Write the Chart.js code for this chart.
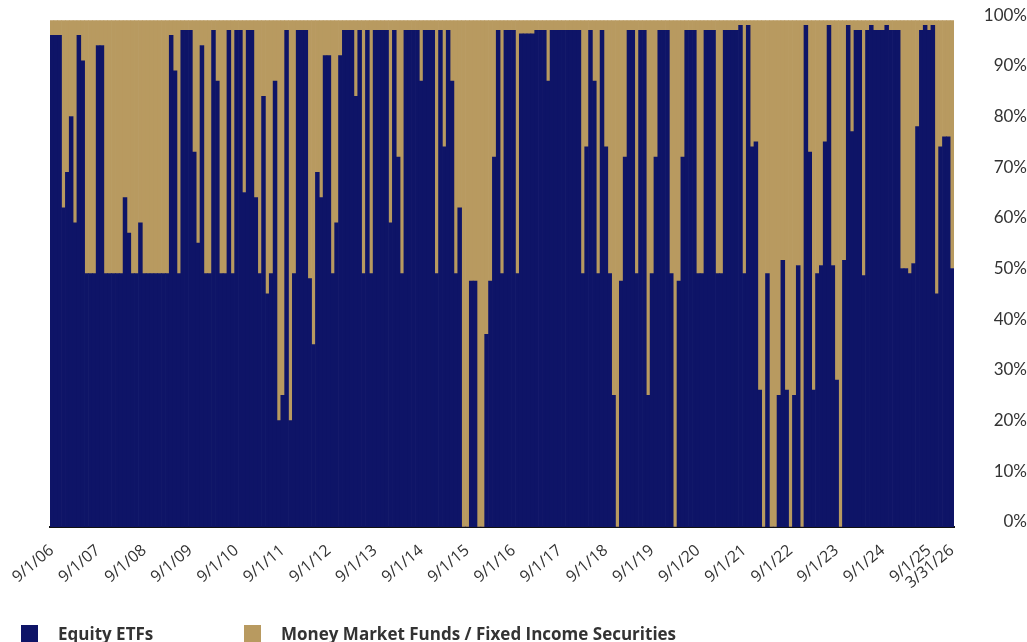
<!DOCTYPE html>
<html><head><meta charset="utf-8">
<script src="https://cdn.jsdelivr.net/npm/chart.js@4"></script>
<style>
html,body{margin:0;padding:0;background:#fff;width:1027px;height:642px;overflow:hidden;}
#wrap{position:relative;width:1027px;height:642px;overflow:hidden;}
canvas{position:absolute;left:0;top:0;}
.leg{position:absolute;top:624px;height:18px;font:bold 17px "Open Sans", Lato, sans-serif;color:#333;display:flex;align-items:center;white-space:nowrap;}
.sw{width:17px;height:17px;display:inline-block;margin-right:20px;flex:none;}
</style></head>
<body><div id="wrap"><canvas id="c" width="1027" height="642"></canvas>
<div class="leg" style="left:21px"><span class="sw" style="background:#0e1467"></span>Equity ETFs</div>
<div class="leg" style="left:244px"><span class="sw" style="background:#b89a60"></span>Money Market Funds / Fixed Income Securities</div>
</div>
<script>
const seriesNames = ["Equity ETFs", "Money Market Funds / Fixed Income Securities"];
const tickLabels = ["9/1/06","9/1/07","9/1/08","9/1/09","9/1/10","9/1/11","9/1/12","9/1/13","9/1/14","9/1/15","9/1/16","9/1/17","9/1/18","9/1/19","9/1/20","9/1/21","9/1/22","9/1/23","9/1/24","9/1/25","3/31/26"];
const yTickLabels = ["0%","10%","20%","30%","40%","50%","60%","70%","80%","90%","100%"];

const equity = [
97,97,97,63,70,81,60,97,92,50,
50,50,95,95,50,50,50,50,50,65,
58,50,50,60,50,50,50,50,50,50,
50,97,90,50,98,98,98,74,56,95,
50,50,98,88,50,50,98,50,98,98,
66,98,98,65,50,85,46,50,88,21,
26,98,21,50,98,98,98,49,36,70,
65,93,93,50,60,93,98,98,98,85,
98,50,98,50,98,98,98,98,60,98,
73,50,98,98,98,98,88,98,98,98,
50,98,75,98,88,50,63,0,0,48.5,
48.5,0,0,38,48.5,73,98,50,98,98,
98,50,97.3,97.3,97.3,97.3,98,98,98,88,
98,98,98,98,98,98,98,98,50,75,
98,88,50,98,75,50,26,0,48.5,73,
98,98,50,98,98,26,50,73,98,98,
98,50,0,48.5,73,98,98,98,50,50,
98,98,98,50,50,98,98,98,98,99,
50,99,75,76,27,0,50,0,0,26,
52.6,27,0,26,51.6,0,99,74,27,50,
51.6,76,99,51.6,29,0,52.6,99,78,98,
98,49.6,98,99,98,98,98,99,98,98,
98,51,51,50,52,79,98,99,98,99,
46,75,77,77,51];

const moneyMarket = [
3,3,3,37,30,19,40,3,8,50,
50,50,5,5,50,50,50,50,50,35,
42,50,50,40,50,50,50,50,50,50,
50,3,10,50,2,2,2,26,44,5,
50,50,2,12,50,50,2,50,2,2,
34,2,2,35,50,15,54,50,12,79,
74,2,79,50,2,2,2,51,64,30,
35,7,7,50,40,7,2,2,2,15,
2,50,2,50,2,2,2,2,40,2,
27,50,2,2,2,2,12,2,2,2,
50,2,25,2,12,50,37,100,100,51.5,
51.5,100,100,62,51.5,27,2,50,2,2,
2,50,2.7,2.7,2.7,2.7,2,2,2,12,
2,2,2,2,2,2,2,2,50,25,
2,12,50,2,25,50,74,100,51.5,27,
2,2,50,2,2,74,50,27,2,2,
2,50,100,51.5,27,2,2,2,50,50,
2,2,2,50,50,2,2,2,2,1,
50,1,25,24,73,100,50,100,100,74,
47.4,73,100,74,48.4,100,1,26,73,50,
48.4,24,1,48.4,71,100,47.4,1,22,2,
2,50.4,2,1,2,2,2,1,2,2,
2,49,49,50,48,21,2,1,2,1,
54,25,23,23,49];

// monthly categories from Sep 2006 to Mar 2026
const categories = [];
for (let i = 0; i < equity.length; i++) {
  const m = ((8 + i) % 12) + 1;
  const y = 2006 + Math.floor((8 + i) / 12);
  const yy = String(y % 100).padStart(2, '0');
  categories.push(i === equity.length - 1 ? "3/31/" + yy : m + "/1/" + yy);
}

const NAVY = '#0e1467', TAN = '#b89a60';

new Chart(document.getElementById('c'), {
  type: 'bar',
  data: {
    labels: categories,
    datasets: [
      {label: seriesNames[0], data: equity, backgroundColor: NAVY, borderWidth: 0, barPercentage: 1, categoryPercentage: 1},
      {label: seriesNames[1], data: moneyMarket, backgroundColor: TAN, borderWidth: 0, barPercentage: 1, categoryPercentage: 1}
    ]
  },
  options: {
    responsive: false,
    animation: false,
    devicePixelRatio: 1,
    layout: {padding: {left: 50, top: 19, right: 0, bottom: 0}},
    plugins: {legend: {display: false}, tooltip: {enabled: false}},
    scales: {
      x: {
        stacked: true,
        grid: {display: false, drawTicks: false},
        border: {display: true, color: '#111', width: 2},
        ticks: {
          autoSkip: false, maxRotation: 40, minRotation: 40, padding: 14,
          color: '#333', font: {size: 16, family: 'Open Sans'},
          callback: (v, i) => tickLabels.includes(categories[i]) ? categories[i] : ''
        },
        afterFit: s => { s.height = 115; }
      },
      y: {
        stacked: true, position: 'right', min: 0, max: 100,
        grid: {display: false, drawTicks: false},
        border: {display: false},
        ticks: {
          stepSize: 10, crossAlign: 'far', padding: 10, labelOffset: -5,
          color: '#333', font: {size: 17, family: 'Lato'},
          callback: v => yTickLabels[Math.round(v / 10)]
        },
        afterFit: s => { s.width = 73; }
      }
    }
  }
});
</script>
</body></html>
